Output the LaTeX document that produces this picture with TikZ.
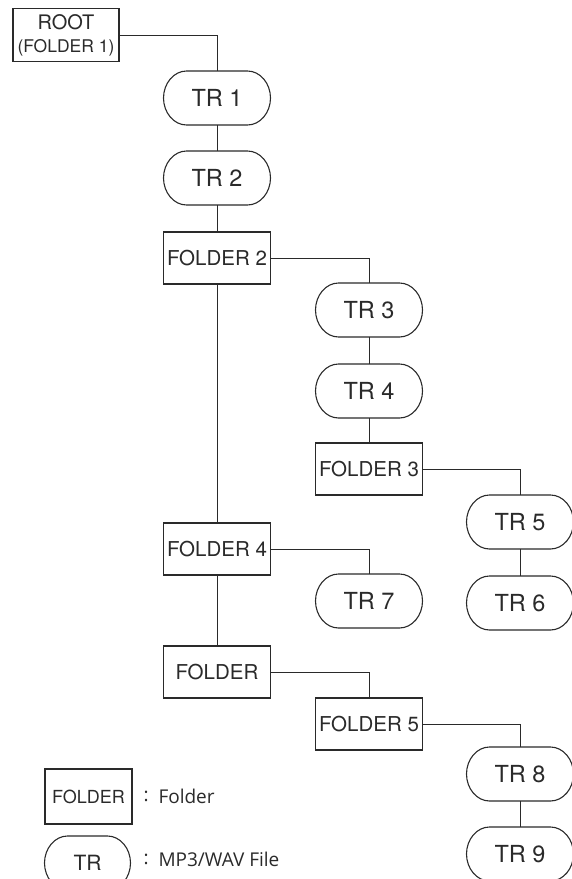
\documentclass[tikz,border=0pt]{standalone}
\usepackage{fontspec}
\setmainfont{TeX Gyre Heros}
\newfontfamily\legfont{Open Sans}
\definecolor{ink}{HTML}{2A2A2A}
\begin{document}
\begin{tikzpicture}[x=1pt,y=-1pt,
  line width=1pt, draw=ink, text=ink,
  folder/.style={draw=ink, line width=1.1pt, rectangle, minimum width=107pt, minimum height=52pt, inner sep=0pt, font=\fontsize{20.5}{24}\selectfont},
  track/.style={rectangle, minimum width=106pt, minimum height=53pt, inner sep=0pt, font=\fontsize{23.5}{28}\selectfont},
  pill/.style={draw=ink, line width=1.1pt},
  conn/.style={draw=ink, line width=1pt},
  legtext/.style={anchor=west, inner sep=0pt, font=\legfont\fontsize{19}{22}\selectfont}
]
\useasboundingbox (0,0) rectangle (572,879);
% tree nodes
\node[folder, minimum width=106pt, minimum height=53pt, align=center] (root) at (66,35)
  {\fontsize{20}{20}\selectfont ROOT\\[-1pt]\fontsize{17.5}{20}\selectfont (FOLDER 1)};
\node[track] (tr1) at (217,98) {TR 1};
\node[track] (tr2) at (217,178) {TR 2};
\node[folder] (f2) at (217,258) {FOLDER 2};
\node[track] (tr3) at (369,310) {TR 3};
\node[track] (tr4) at (369,391) {TR 4};
\node[folder] (f3) at (369,469) {FOLDER 3};
\node[track] (tr5) at (520,522) {TR 5};
\node[track] (tr6) at (520,603) {TR 6};
\node[folder] (f4) at (217,549) {FOLDER 4};
\node[track] (tr7) at (369,601) {TR 7};
\node[folder] (f) at (217,672) {FOLDER};
\node[folder] (f5) at (369,724) {FOLDER 5};
\node[track] (tr8) at (520,774) {TR 8};
\node[track] (tr9) at (520,854) {TR 9};
% legend
\node[folder, minimum width=87pt, minimum height=55pt, font=\fontsize{18}{22}\selectfont] (lf) at (88.5,796.5) {FOLDER};
\node[track, minimum width=85pt, font=\fontsize{21}{24}\selectfont] (lt) at (87.5,863) {TR};
% pill outlines (elliptical ends)
\foreach \n in {tr1,tr2,tr3,tr4,tr5,tr6,tr7,tr8,tr9,lt}{
  \draw[pill] ([xshift=23pt]\n.north west) -- ([xshift=-23pt]\n.north east)
    .. controls ([xshift=-10.3pt]\n.north east) and ([yshift=14.6pt]\n.east) .. (\n.east)
    .. controls ([yshift=-14.6pt]\n.east) and ([xshift=-10.3pt]\n.south east) .. ([xshift=-23pt]\n.south east)
    -- ([xshift=23pt]\n.south west)
    .. controls ([xshift=10.3pt]\n.south west) and ([yshift=-14.6pt]\n.west) .. (\n.west)
    .. controls ([yshift=14.6pt]\n.west) and ([xshift=10.3pt]\n.north west) .. ([xshift=23pt]\n.north west)
    -- cycle;
}
% connectors
\draw[conn] (root.east) -| (tr1.north);
\draw[conn] (tr1) -- (tr2);
\draw[conn] (tr2) -- (f2);
\draw[conn] (f2.east) -| (tr3.north);
\draw[conn] (tr3) -- (tr4);
\draw[conn] (tr4) -- (f3);
\draw[conn] (f3.east) -| (tr5.north);
\draw[conn] (tr5) -- (tr6);
\draw[conn] (f2) -- (f4);
\draw[conn] (f4.east) -| (tr7.north);
\draw[conn] (f4) -- (f);
\draw[conn] (f.east) -| (f5.north);
\draw[conn] (f5.east) -| (tr8.north);
\draw[conn] (tr8) -- (tr9);
% legend texts
\node[legtext] (lfc) at (143,796.5) {:};
\node[legtext] (lft) at (158,796.5) {Folder};
\node[legtext] (ltc) at (143,859) {:};
\node[legtext] (ltt) at (158,859) {MP3/WAV File};
\end{tikzpicture}
\end{document}
